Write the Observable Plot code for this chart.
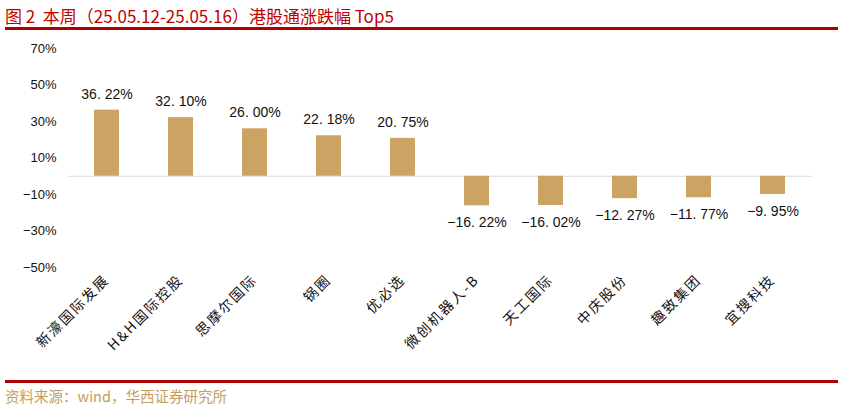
<!DOCTYPE html>
<html><head><meta charset="utf-8">
<script src="https://cdn.jsdelivr.net/npm/d3@7"></script>
<script src="https://cdn.jsdelivr.net/npm/@observablehq/plot@0.6"></script>
<style>
body{margin:0;background:#fff;}
#wrap{position:relative;width:842px;height:416px;overflow:hidden;font-family:"Noto Sans CJK SC","Noto Sans",sans-serif;}
#title{position:absolute;left:5px;top:5px;font-size:17px;color:#c00000;line-height:22px;white-space:pre;}
.redline{position:absolute;left:5px;width:833px;height:3px;background:#b00000;}
#chart{position:absolute;left:0;top:30px;}
#source{position:absolute;left:5px;top:386px;font-size:14.5px;color:#c49c5e;line-height:20px;}
</style></head>
<body>
<div id="wrap">
  <div id="title">图 2  本周（25.05.12-25.05.16）港股通涨跌幅 Top5</div>
  <div class="redline" style="top:27px"></div>
  <div id="chart"></div>
  <div class="redline" style="top:380px"></div>
  <div id="source">资料来源：wind，华西证券研究所</div>
</div>
<script>
const names = ["新濠国际发展","H&H国际控股","思摩尔国际","锅圈","优必选","微创机器人-B","天工国际","中庆股份","趣致集团","宜搜科技"];
const changes = [36.22, 32.10, 26.00, 22.18, 20.75, -16.22, -16.02, -12.27, -11.77, -9.95];
const yTicks = [70, 50, 30, 10, -10, -30, -50];

const data = names.map((n, i) => ({name: n, value: changes[i]}));
const fmtPct = v => (v < 0 ? "−" : "") + Math.abs(v).toFixed(2).replace(".", ". ") + "%";

const chart = Plot.plot({
  width: 842,
  height: 350,
  marginLeft: 68,
  marginRight: 30,
  marginTop: 18,
  marginBottom: 113,
  style: {fontFamily: "Arial, 'Liberation Sans', sans-serif", background: "transparent"},
  x: {domain: names, paddingInner: 0.66, paddingOuter: 0.33, label: null},
  y: {domain: [-50, 70], label: null},
  marks: [
    Plot.ruleY([0], {stroke: "#d9d9d9", strokeWidth: 1.2}),
    Plot.barY(data, {x: "name", y: "value", fill: "#cba463"}),
    Plot.text(data.filter(d => d.value >= 0), {x: "name", y: "value", text: d => fmtPct(d.value), dy: -16, fontSize: 14, fill: "#111"}),
    Plot.text(data.filter(d => d.value < 0), {x: "name", y: "value", text: d => fmtPct(d.value), dy: 17, fontSize: 14, fill: "#111"}),
    Plot.axisY({ticks: yTicks, tickSize: 0, tickPadding: 12, tickFormat: d => (d < 0 ? "−" : "") + Math.abs(d) + "%", fontSize: 13, fill: "#111", label: null}),
    Plot.axisX({tickSize: 0, tickPadding: 10, tickRotate: -45, fontSize: 14, fill: "#111", label: null,
      fontFamily: "'Noto Sans CJK SC', sans-serif"})
  ]
});
document.getElementById("chart").appendChild(chart);
chart.querySelectorAll("g[aria-label='x-axis tick label'] text").forEach(t => t.style.letterSpacing = "2px");
</script>
</body></html>
